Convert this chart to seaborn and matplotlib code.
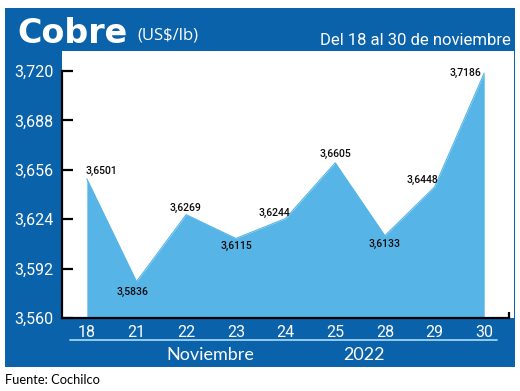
import numpy as np
import pandas as pd
import matplotlib.pyplot as plt
import seaborn as sns
from matplotlib.patches import Rectangle
from matplotlib.lines import Line2D

# datos: precio del cobre (US$/lb), del 18 al 30 de noviembre 2022
dias = ["18", "21", "22", "23", "24", "25", "28", "29", "30"]
precios = [3.6501, 3.5836, 3.6269, 3.6115, 3.6244, 3.6605, 3.6133, 3.6448, 3.7186]
y_ticks = [3.560, 3.592, 3.624, 3.656, 3.688, 3.720]

# desplazamiento de cada etiqueta (pixeles) y alineacion
label_offsets = [(-1, 8, "left"), (-4, -10, "center"), (-1, 7, "center"),
                 (1, -7, "center"), (-11, 6, "center"), (0, 9, "center"),
                 (0, -8, "center"), (-12, 7, "center"), (-19, 0, "center")]

azul = "#0a62ab"
celeste = "#56b4e6"
condensada = ["Roboto", "DejaVu Sans"]

sns.set_style("white")
plt.rcParams["font.family"] = ["Lato", "DejaVu Sans"]

df = pd.DataFrame({"dia": dias, "precio": precios})
df["pos"] = np.arange(len(df))

fig = plt.figure(figsize=(5.2, 3.91), dpi=100)
fig.patch.set_facecolor("white")
fig.add_artist(Rectangle((5 / 520, 24 / 391), 510 / 520, 359 / 391,
                         transform=fig.transFigure, facecolor=azul,
                         edgecolor="none", zorder=-10))

ax = fig.add_axes([62 / 520, 73 / 391, 452 / 520, 267 / 391])
ax.set_facecolor("white")

sns.lineplot(data=df, x="pos", y="precio", color=celeste, linewidth=0.8, ax=ax)
ax.fill_between(df["pos"], df["precio"], 3.5, color=celeste, linewidth=0)

for i, (x, v) in enumerate(zip(df["pos"], df["precio"])):
    dx, dy, ha = label_offsets[i]
    ax.annotate(f"{v:.4f}".replace(".", ","), (x, v), xytext=(dx, dy),
                textcoords="offset pixels", ha=ha, va="center",
                fontsize=7.5, family=condensada, weight="medium",
                color="#0a0a0a")

ax.set_xlim(-0.5, 8.6)
ax.set_ylim(3.560, 3.7329)
ax.set_xticks(df["pos"], labels=dias)
ax.set_xticks([8.5], minor=True)
ax.set_yticks(y_ticks, labels=[f"{v:.3f}".replace(".", ",") for v in y_ticks])
ax.set_xlabel("")
ax.set_ylabel("")

for s in ["top", "right"]:
    ax.spines[s].set_visible(False)
for s in ["left", "bottom"]:
    ax.spines[s].set_color("black")
    ax.spines[s].set_linewidth(1.6)
ax.spines["left"].set_bounds(3.560, 3.720)
ax.spines["bottom"].set_bounds(-0.5, 8.5)

ax.tick_params(axis="y", left=True, direction="in", length=8, width=1.6,
               color="black", labelcolor="white", labelsize=11.5, pad=6)
for t in ax.get_yticklabels():
    t.set_family(condensada)
ax.tick_params(axis="x", which="major", bottom=False, length=0,
               labelcolor="white", labelsize=11.5, pad=5)
ax.tick_params(axis="x", which="minor", bottom=True, direction="in", length=4,
               width=1.6, color="black")
for t in ax.get_xticklabels():
    t.set_family(condensada)

# linea bajo los dias
fig.add_artist(Line2D([70 / 520, 497 / 520], [1 - 340 / 391, 1 - 340 / 391],
                      color="#9fd2f3", linewidth=1.3))

fig.text(17 / 520, 1 - 43 / 391, "Cobre", color="white", fontsize=24,
         family="DejaVu Sans", weight="bold", va="baseline")
fig.text(137 / 520, 1 - 40 / 391, "(US$/lb)", color="white", fontsize=12,
         family=["Open Sans", "DejaVu Sans"], va="baseline")
fig.text(511 / 520, 1 - 45 / 391, "Del 18 al 30 de noviembre", color="white",
         fontsize=12, family=condensada, ha="right", va="baseline")
fig.text(210 / 520, 1 - 355 / 391, "Noviembre", color="white", fontsize=13,
         ha="center", va="center")
fig.text(364 / 520, 1 - 355 / 391, "2022", color="white", fontsize=13,
         ha="center", va="center")
fig.text(5 / 520, 1 - 380 / 391, "Fuente: Cochilco", color="black",
         fontsize=9.3, va="center")

fig.savefig("out.png", dpi=100)
